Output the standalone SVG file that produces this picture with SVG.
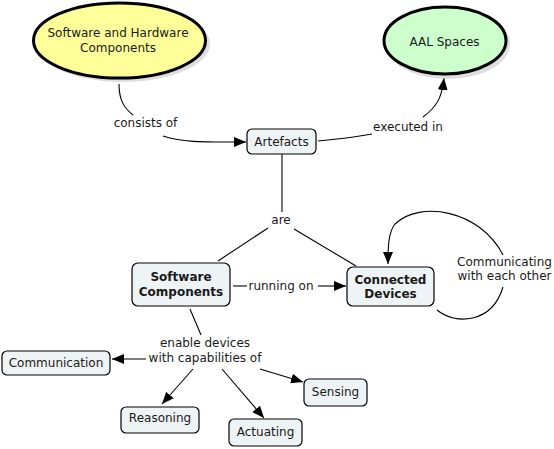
<svg xmlns="http://www.w3.org/2000/svg" width="554" height="449" viewBox="0 0 554 449">
<defs>
<marker id="arr" viewBox="0 0 12 10" refX="12" refY="5" markerWidth="12" markerHeight="10" markerUnits="userSpaceOnUse" orient="auto">
<path d="M0,0 L12,5 L0,10 Z" fill="#000"/>
</marker>
</defs>
<style>
text{font-family:"DejaVu Sans","Verdana",sans-serif;font-size:12px;fill:#1a1a1a;text-anchor:middle}
.b{font-weight:bold}
.box{fill:#eef3f5;stroke:#000;stroke-width:1.2}
.shadow{fill:#c8c8c8;opacity:0.6}
.ell{stroke:#000;stroke-width:3}
.c{fill:none;stroke:#000;stroke-width:1.1}
.a{marker-end:url(#arr)}
</style>
<rect width="554" height="449" fill="#fff"/>
<g id="connectors">
<path class="c" d="M119,84 C119,100 124,108 133,115"/>
<path class="c a" d="M163,136 C185,143 205,142 246,142"/>
<path class="c" d="M318,141 C340,139 355,137 372,134"/>
<path class="c a" d="M423,117 C438,106 442,96 444,78"/>
<path class="c" d="M282,154 L282,212"/>
<path class="c" d="M268,228 L218,261"/>
<path class="c" d="M294,229 L356,266"/>
<path class="c" d="M233,286 L247,286"/>
<path class="c a" d="M318,286 L346,286"/>
<path class="c" d="M437,310 C455,325 492,324 503,287"/>
<path class="c a" d="M503,255 C480,210 420,200 395,224 C388,233 388,248 388,264"/>
<path class="c" d="M190,309 L201,335"/>
<path class="c a" d="M146,359 L112,359"/>
<path class="c a" d="M193,369 L162,404"/>
<path class="c a" d="M222,369 L264,418"/>
<path class="c a" d="M260,369 L303,382"/>
<text x="145.5" y="127">consists of</text>
<text x="408" y="131">executed in</text>
<text x="281" y="224">are</text>
<text x="281" y="290">running on</text>
<text x="504.5" y="266">Communicating</text>
<text x="504.5" y="280">with each other</text>
<text x="205" y="347">enable devices</text>
<text x="205" y="362">with capabilities of</text>
</g>
<g id="n-swhw">
<ellipse class="shadow" cx="123" cy="44" rx="87" ry="38"/>
<ellipse class="ell" cx="119.5" cy="40.5" rx="86" ry="37.5" fill="#ffff99"/>
<text x="118" y="37">Software and Hardware</text>
<text x="118" y="52">Components</text>
</g>
<g id="n-aal">
<ellipse class="shadow" cx="448" cy="44" rx="62" ry="35"/>
<ellipse class="ell" cx="445" cy="40.5" rx="61" ry="33.5" fill="#ccffcc"/>
<text x="444.5" y="46">AAL Spaces</text>
</g>
<g id="n-artefacts">
<rect class="box" x="247" y="129" width="69" height="25" rx="5"/>
<text x="281.5" y="146">Artefacts</text>
</g>
<g id="n-software">
<rect class="box" x="132" y="263" width="98" height="43" rx="6"/>
<text class="b" x="181" y="281">Software</text>
<text class="b" x="181" y="296">Components</text>
</g>
<g id="n-devices">
<rect class="box" x="347" y="267" width="87" height="39" rx="6"/>
<text class="b" x="390.5" y="284">Connected</text>
<text class="b" x="390.5" y="298">Devices</text>
</g>
<g id="n-communication">
<rect class="box" x="2" y="351" width="108" height="24" rx="5"/>
<text x="56" y="367">Communication</text>
</g>
<g id="n-reasoning">
<rect class="box" x="121" y="407" width="78" height="26" rx="5"/>
<text x="160" y="422">Reasoning</text>
</g>
<g id="n-actuating">
<rect class="box" x="229" y="419" width="73" height="27" rx="5"/>
<text x="265.5" y="436">Actuating</text>
</g>
<g id="n-sensing">
<rect class="box" x="304" y="379" width="63" height="27" rx="5"/>
<text x="335.5" y="396">Sensing</text>
</g>
</svg>
